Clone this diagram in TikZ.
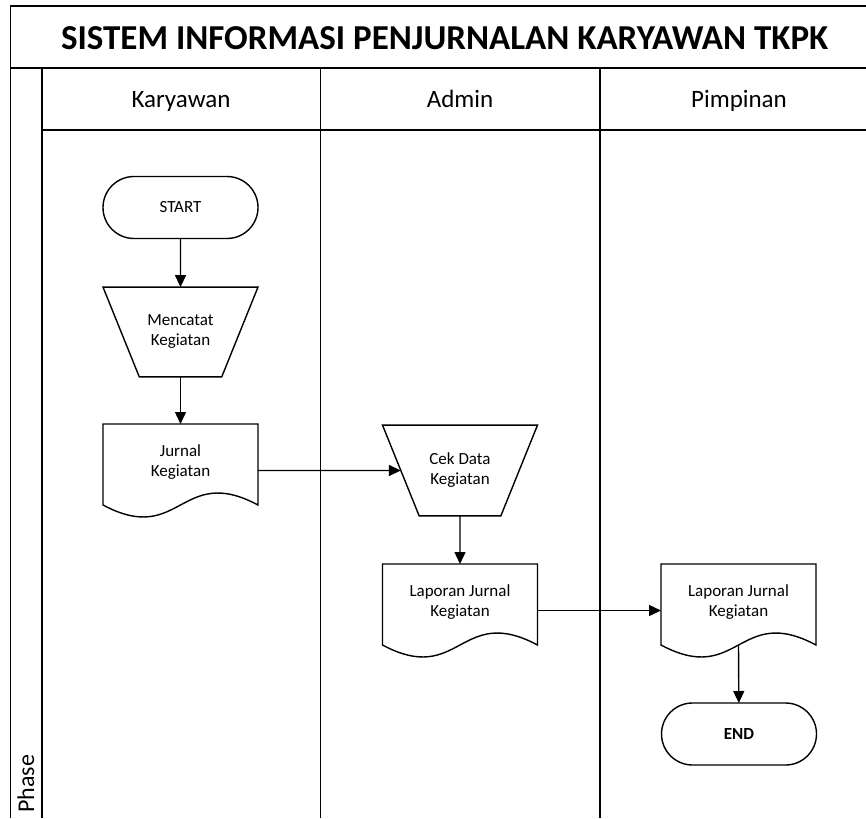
\documentclass[tikz,border=0pt]{standalone}
\usepackage{fontspec}
\setmainfont{Carlito}
\usetikzlibrary{positioning,shapes.geometric,arrows.meta}

\newcommand{\docoutline}[1]{%
  \draw[DocLine] (#1.north west) -- (#1.north east) -- ([yshift=12pt]#1.south east)
    .. controls ([yshift=53.5pt]#1.south) and ([yshift=-29.5pt]#1.south) ..
    ([yshift=12pt]#1.south west) -- cycle;}

\begin{document}
\begin{tikzpicture}[x=1pt,y=-1pt]
  \tikzset{LaneLine/.style = {
    draw          = black,
    line width    = 1.6pt
    }
  }
  \tikzset{TerminalStyle/.style = {
    shape           = rectangle,
    draw            = black,
    line width      = 1.4pt,
    rounded corners = 31pt,
    minimum width   = 155pt,
    minimum height  = 62pt,
    inner sep       = 1pt,
    outer sep       = 0pt,
    font            = \fontsize{17}{20}\selectfont
    }
  }
  \tikzset{ManualStyle/.style = {
    shape                      = trapezium,
    trapezium angle            = 68,
    shape border rotate        = 180,
    trapezium stretches body   = true,
    draw                       = black,
    line width                 = 1.4pt,
    minimum width              = 155pt,
    inner xsep                 = 1pt,
    inner ysep                 = 28pt,
    outer sep                  = 0pt,
    align                      = center,
    font                       = \fontsize{17}{20}\selectfont
    }
  }
  \tikzset{DocStyle/.style = {
    shape          = rectangle,
    draw           = none,
    minimum width  = 155pt,
    minimum height = 93pt,
    inner sep      = 1pt,
    outer sep      = 0pt,
    align          = center,
    font           = \fontsize{17}{20}\selectfont
    }
  }
  \tikzset{DocLine/.style = {
    draw       = black,
    line width = 1.4pt
    }
  }
  \tikzset{ArrowStyle/.style = {
    draw       = black,
    line width = 1.4pt,
    -{Triangle[length=12pt,width=11pt]}
    }
  }
  \tikzset{LaneTitle/.style = {
    anchor = base,
    font   = \fontsize{25}{30}\selectfont
    }
  }

  \clip (0,0) rectangle (866,818);

  % swimlane frame
  \draw[LaneLine] (10.5,818) -- (10.5,6) -- (879,6);
  \draw[LaneLine] (10.5,68) -- (879,68);
  \draw[LaneLine] (41.7,130) -- (879,130);
  \foreach \x in {41.7,320.5,599.7,879}
    \draw[LaneLine] (\x,68) -- (\x,818);

  \node[anchor=base](title) at (444.6,50) {\fontsize{35}{40}\selectfont\bfseries SISTEM INFORMASI PENJURNALAN KARYAWAN TKPK};
  \node[LaneTitle](karyawan) at (181,108) {Karyawan};
  \node[LaneTitle](admin) at (460,108) {Admin};
  \node[LaneTitle](pimpinan) at (739,108) {Pimpinan};
  \node[rotate=90, anchor=west, inner sep=0pt](phase) at (26,813) {\fontsize{24}{28}\selectfont Phase};

  \node[TerminalStyle](start) at (180.5,207.5) {START};
  \node[ManualStyle](catat) at (180.5,332) {Mencatat\\Kegiatan};
  \node[DocStyle](jurnal) at (180.5,470.5) {Jurnal\\Kegiatan\\[0pt]\mbox{}};
  \node[ManualStyle](cek) at (460,470.5) {Cek Data\\Kegiatan};
  \node[DocStyle](lapadmin) at (460,610.5) {Laporan Jurnal\\Kegiatan\\[0pt]\mbox{}};
  \node[DocStyle](lappimpinan) at (738.5,610.5) {Laporan Jurnal\\Kegiatan\\[0pt]\mbox{}};
  \node[TerminalStyle](end) at (739,734) {\bfseries END};

  \docoutline{jurnal}
  \docoutline{lapadmin}
  \docoutline{lappimpinan}

  \draw[ArrowStyle] (start) -- (catat);
  \draw[ArrowStyle] (catat) -- (jurnal);
  \draw[ArrowStyle] (jurnal.east) -- (cek.west);
  \draw[ArrowStyle] (cek) -- (lapadmin);
  \draw[ArrowStyle] (lapadmin.east) -- (lappimpinan.west);
  \draw[ArrowStyle] ([yshift=12pt]lappimpinan.south) -- (end);

\end{tikzpicture}
\end{document}
